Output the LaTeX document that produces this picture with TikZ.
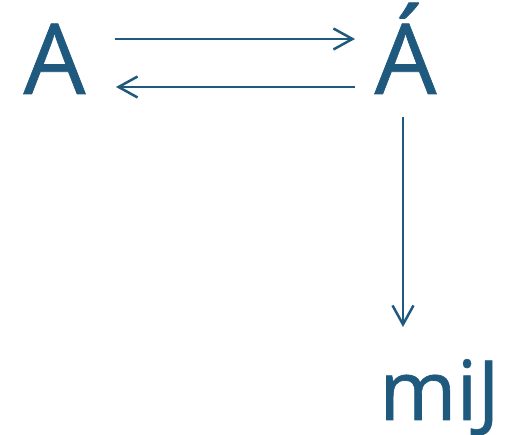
\documentclass[tikz,border=0pt]{standalone}
\usepackage{fontspec}
\setmainfont{Open Sans}
\newfontface\heavyface{Open Sans}[FakeBold=0.7]
\usetikzlibrary{arrows.meta}
\definecolor{ink}{HTML}{1F5A7E}
\begin{document}
\begin{tikzpicture}[x=1pt,y=1pt,
  lbl/.style={text=ink,inner sep=0pt,anchor=base},
  big/.style={lbl,font=\heavyface\fontsize{98}{98}\selectfont},
  small/.style={lbl,font=\heavyface\fontsize{83}{83}\selectfont},
  arr/.style={draw=ink,line width=2.5pt,-{Straight Barb[length=19pt,width=21pt]}}]
\useasboundingbox (0,0) rectangle (506,435);
\node[big] (A) at (54.5,341) {A};
\node[big] (B) at (405.5,341) {Á};
\node[small] (C) at (439.5,15) {miJ};
\coordinate (p1) at (115,396);
\coordinate (p2) at (355,396);
\coordinate (q1) at (355,348);
\coordinate (q2) at (116,348);
\coordinate (r1) at (403,318);
\coordinate (r2) at (403,108);
\draw[arr] (p1) -- (p2);
\draw[arr] (q1) -- (q2);
\draw[arr] (r1) -- (r2);
\end{tikzpicture}
\end{document}
